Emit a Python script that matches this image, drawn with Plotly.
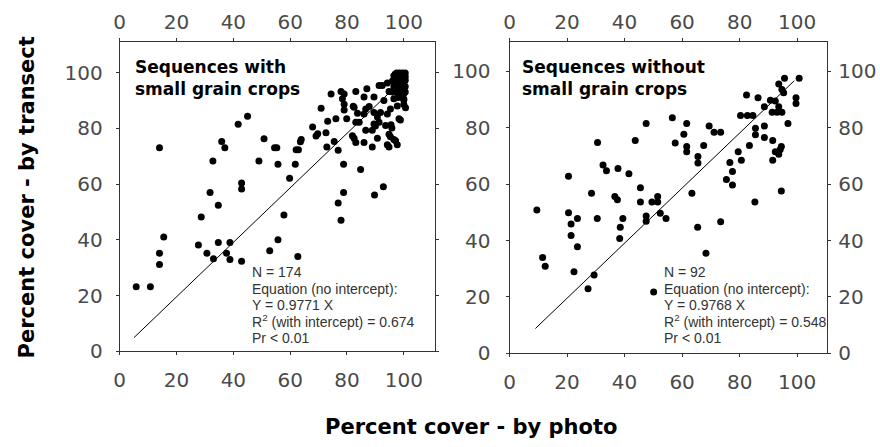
import plotly.graph_objects as go

# ---------------- data ----------------
# Left panel: sequences with small grain crops
left_x = [41.7, 45, 14, 35.9, 37, 50.8, 54.5, 55.3, 32.8, 49, 55.7, 42.9, 42.9, 31.8, 34.7, 28.7,
          15.5, 27.7, 34.7, 38.8, 55.7, 52.8, 30.7, 37.6, 33, 38.8, 42.9, 14, 14, 5.8, 10.8,
          74.4, 77.9, 79, 83.1, 87, 91.3, 92.4, 94.2, 78.4, 79, 70.9, 82.5, 82.2, 86, 89.5, 87.8,
          86.6, 79, 93, 94.8, 96.5, 100, 100.6, 95.3, 97.7, 91.8, 89.5, 86, 83.7, 76.1, 79.9, 73.2,
          83.1, 84.3, 90.7, 94.2, 98.3, 98.8, 89.5, 90, 91.3, 93.6, 95.8, 95.5, 67.9, 69.7, 69.1,
          72.6, 86.6, 88.9, 94.8, 95.3, 81.9, 82.5, 90.7, 96.5, 97.1, 63.9, 63.6, 75.5, 83.1, 86,
          94.2, 94.8, 97.7, 88.9, 72.9, 62.1, 62.9, 76.9, 61.8, 78.8, 84.8, 59.8, 92.8, 78.8, 89.7,
          76.9, 57.8, 77.9, 62.7,
          97, 98, 99, 100, 97, 98, 99, 100, 97, 98, 99, 100, 97, 98, 99, 100, 97.5, 98.5, 99.5,
          97.5, 98.5, 99.5, 96, 100.5, 96.5, 100.5, 98, 99, 97, 100, 98.5, 99.5, 97.5, 96, 100,
          98, 99, 100, 97, 99, 97.5, 98.5, 99.5, 100.5, 97.5, 98.5, 99.5, 100.5, 96.5, 100.5,
          98, 99]
left_y = [81.4, 84.3, 73, 75.3, 73, 76.2, 73, 73, 68.3, 68.3, 67.1, 60.4, 58.2, 57, 52.4, 48.2,
          41, 38.1, 39, 39, 40, 36.1, 35.2, 35.2, 33.2, 32.9, 32.3, 35.2, 31.1, 23.2, 23.2,
          92.3, 93.2, 92.3, 93.2, 94.2, 95.3, 95.3, 96.2, 90.6, 88.6, 87.2, 87.5, 87.9, 91.2, 91.2, 87.8,
          86.9, 86.6, 90, 93.2, 90.6, 90.1, 87.4, 86.9, 88, 85.7, 85.7, 85.1, 85.4, 83.4, 83.4, 82.5,
          82.2, 82.2, 84, 85.1, 83.4, 83, 81.5, 80.8, 82.2, 81, 80.1, 81.3, 80.5, 78, 77.2,
          78.4, 79.3, 79.3, 77.9, 77, 77.3, 76.4, 76.4, 76, 75.5, 76, 75.2, 75.3, 74.9, 74.9,
          74.1, 73.3, 74.1, 73.3, 73.3, 72.3, 72.3, 72.1, 67.1, 67.1, 65.2, 62.1, 59, 57, 56.1,
          53.2, 48.9, 47, 34,
          99, 99, 99, 99, 97.5, 97.5, 97.5, 97.5, 96, 96, 96, 96, 94.5, 94.5, 94.5, 94.5, 98.2, 98.2, 98.2,
          95.2, 95.2, 95.2, 93, 93, 95, 95, 92.5, 93, 98, 92.5, 96.8, 96.8, 93.8, 97, 90.5,
          91, 91.5, 88.5, 99.5, 99.6, 99.8, 99.8, 99.8, 99.8, 96.2, 96.2, 96.2, 97.2, 98.8, 98.5,
          94, 94]

# Right panel: sequences without small grain crops
right_x = [47.5, 30.6, 43.7, 32.5, 33.7, 37.7, 41.5, 20.5, 45.5, 28.5, 36.6, 37.5, 45.5, 49.5, 51.5,
           51.5, 9.5, 20.5, 21.4, 23.6, 30.5, 39.4, 38.5, 21.4, 38.3, 23.6, 47.5, 47.5, 52.4, 54.4,
           11.5, 12.4, 22.4, 29.4, 27.3, 50.1,
           95.6, 100.7, 93.6, 94.7, 95.3, 82.4, 86.4, 90.7, 92.4, 88.6, 93.6, 99.6, 99.6, 80.3, 82.7,
           84.6, 91.3, 93, 94.7, 56.6, 61.6, 69.4, 71.1, 73.4, 85.5, 85.5, 88.6, 96.8, 60.6, 88.6,
           91.5, 57.6, 61.6, 61.6, 67.5, 83.4, 94.5, 94.1, 79.5, 92.4, 93.6, 65.5, 65.5, 80.6, 91.5,
           76.6, 77.5, 75.4, 77.5, 63.4, 94.5, 85.3, 65.4, 73.4, 68.3]
right_y = [81.5, 74.8, 75.5, 66.8, 64.8, 65.6, 63.7, 62.8, 58.7, 56.8, 55.6, 54.5, 53.7, 53.7, 55.6,
           53.7, 50.8, 49.9, 45.9, 47.8, 47.8, 47.8, 44.7, 41.8, 40.7, 37.8, 48.7, 46.8, 49.7, 47.8,
           34, 30.9, 28.9, 27.8, 22.9, 21.7,
           97.6, 97.6, 95.5, 93.6, 92.4, 91.6, 90.7, 89.8, 89.5, 87.5, 87.5, 90.7, 88.6, 84.4, 84.4,
           84.4, 85.5, 85.5, 85.5, 83.6, 81.5, 80.6, 78.4, 78.4, 79.8, 77.5, 80.6, 81.5, 77.7, 76.6,
           75.5, 74.6, 73.4, 71.5, 73.7, 73.7, 73.4, 72.3, 71.5, 71.5, 70.6, 69.8, 67.5, 68.5, 68.5,
           67.7, 64.5, 61.7, 59.7, 56.8, 57.6, 53.7, 44.7, 46.7, 35.5]

# Regression lines (no intercept)
left_slope = 0.9771
right_slope = 0.9768
left_line_x = [5, 98]
right_line_x = [9, 99]

tick_vals = [0, 20, 40, 60, 80, 100]
tick_text = ["0", "20", "40", "60", "80", "100"]

left_title = "Sequences with<br>small grain crops"
right_title = "Sequences without<br>small grain crops"
left_stats = ["N = 174", "Equation (no intercept):", "Y = 0.9771 X",
              "R<sup>2</sup> (with intercept) = 0.674", "Pr < 0.01"]
right_stats = ["N = 92", "Equation (no intercept):", "Y = 0.9768 X",
               "R<sup>2</sup> (with intercept) = 0.548", "Pr < 0.01"]
x_title = "Percent cover - by photo"
y_title = "Percent cover - by transect"

# ---------------- figure ----------------
W, H = 880, 447
def fx(px): return px / W
def fy(py): return 1 - py / H

fig = go.Figure()
marker = dict(color="black", size=7)
fig.add_trace(go.Scatter(x=left_x, y=left_y, mode="markers", marker=marker,
                         xaxis="x", yaxis="y", hoverinfo="skip"))
fig.add_trace(go.Scatter(x=left_line_x, y=[v * left_slope for v in left_line_x], mode="lines",
                         line=dict(color="black", width=1), xaxis="x", yaxis="y", hoverinfo="skip"))
fig.add_trace(go.Scatter(x=right_x, y=right_y, mode="markers", marker=marker,
                         xaxis="x2", yaxis="y2", hoverinfo="skip"))
fig.add_trace(go.Scatter(x=right_line_x, y=[v * right_slope for v in right_line_x], mode="lines",
                         line=dict(color="black", width=1), xaxis="x2", yaxis="y2", hoverinfo="skip"))
# invisible traces so overlay axes are drawn
for xa, ya in [("x3", "y"), ("x4", "y2"), ("x2", "y3")]:
    fig.add_trace(go.Scatter(x=[50], y=[50], mode="markers", marker=dict(opacity=0),
                             xaxis=xa, yaxis=ya, hoverinfo="skip"))

tickfont = dict(family="DejaVu Sans", size=20, color="#4a4a4a")
frame = dict(showline=True, linecolor="#333", linewidth=1, showgrid=False, zeroline=False,
             tickvals=tick_vals, ticktext=tick_text, tickfont=tickfont,
             ticks="outside", ticklen=3, tickcolor="#333", fixedrange=True)

LX0, LX1, LY0, LY1 = 114.5, 432, 43, 361
RX0, RX1, RY0, RY1 = 507, 827, 43, 363
lr = [0, 111]
rr = [0, 110.5]

fig.update_layout(
    width=W, height=H, margin=dict(l=0, r=0, t=0, b=0),
    paper_bgcolor="white", plot_bgcolor="white", showlegend=False,
    xaxis=dict(frame, domain=[fx(LX0), fx(LX1)], range=lr, anchor="y", mirror="ticks",
               ticklabelstandoff=8),
    yaxis=dict(frame, domain=[fy(LY1), fy(LY0)], range=lr, anchor="x", mirror="ticks",
               ticklabelstandoff=9),
    xaxis3=dict(frame, range=lr, overlaying="x", side="top", anchor="y", showline=False,
                ticks="", ticklabelstandoff=8, domain=[fx(LX0), fx(LX1)]),
    xaxis2=dict(frame, domain=[fx(RX0), fx(RX1)], range=rr, anchor="y2", mirror="ticks",
                ticklabelstandoff=8),
    yaxis2=dict(frame, domain=[fy(RY1), fy(RY0)], range=rr, anchor="x2", mirror="ticks",
                ticklabelstandoff=11),
    xaxis4=dict(frame, range=rr, overlaying="x2", side="top", anchor="y2", showline=False,
                ticks="", ticklabelstandoff=8, domain=[fx(RX0), fx(RX1)]),
    yaxis3=dict(frame, range=rr, overlaying="y2", side="right", anchor="x2", showline=False,
                ticks="", ticklabelstandoff=10, domain=[fy(RY1), fy(RY0)]),
)

ann = []
ann.append(dict(text=left_title, x=fx(128), y=fy(57), xref="paper", yref="paper",
                xanchor="left", yanchor="top", align="left", showarrow=False,
                font=dict(family="DejaVu Sans", size=17, color="black", weight="bold")))
ann.append(dict(text=right_title, x=fx(518), y=fy(57), xref="paper", yref="paper",
                xanchor="left", yanchor="top", align="left", showarrow=False,
                font=dict(family="DejaVu Sans", size=17, color="black", weight="bold")))
rows = [280, 297, 313, 330, 347]
for stats, x0 in [(left_stats, 246), (right_stats, 661)]:
    for txt, py in zip(stats, rows):
        ann.append(dict(text=txt, x=fx(x0), y=fy(py), xref="paper", yref="paper",
                        xanchor="left", yanchor="middle", showarrow=False,
                        font=dict(family="Liberation Sans", size=14, color="#333")))
ann.append(dict(text=x_title, x=fx(468), y=fy(439), xref="paper", yref="paper",
                xanchor="center", yanchor="middle", showarrow=False,
                font=dict(family="DejaVu Sans", size=21, color="black", weight="bold")))
ann.append(dict(text=y_title, x=fx(21), y=fy(203), xref="paper", yref="paper",
                xanchor="center", yanchor="middle", showarrow=False, textangle=-90,
                font=dict(family="DejaVu Sans", size=21, color="black", weight="bold")))
fig.update_layout(annotations=ann)

fig.write_html("out.html")
